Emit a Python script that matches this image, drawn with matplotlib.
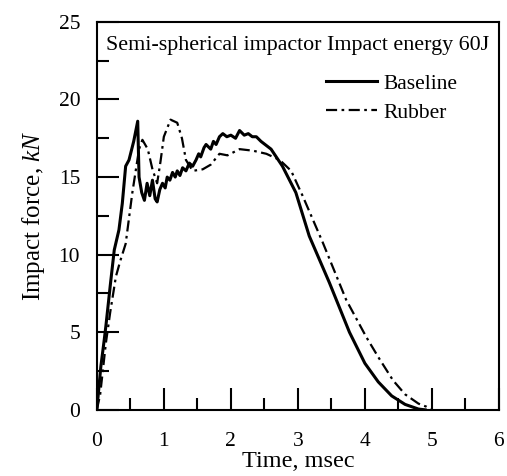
import matplotlib
matplotlib.use('Agg')
import matplotlib.pyplot as plt
from matplotlib.ticker import MultipleLocator

# Impact force histories (time in msec, force in kN)
baseline_t = [0, 0.06, 0.11, 0.135, 0.2, 0.26, 0.33, 0.38, 0.43, 0.48, 0.55, 0.61,
              0.63, 0.67, 0.71, 0.75, 0.79, 0.83, 0.87, 0.9, 0.94, 0.98, 1.02, 1.05,
              1.09, 1.13, 1.17, 1.2, 1.24, 1.28, 1.33, 1.38, 1.43, 1.48, 1.52, 1.55,
              1.6, 1.63, 1.7, 1.74, 1.78, 1.83, 1.88, 1.94, 2.0, 2.07, 2.13, 2.2,
              2.26, 2.32, 2.38, 2.45, 2.6, 2.77, 2.97, 3.17, 3.47, 3.77, 4.0, 4.2,
              4.4, 4.6, 4.8, 4.9]
baseline_f = [0, 2.8, 4.5, 5.4, 8.0, 10.3, 11.6, 13.3, 15.7, 16.1, 17.3, 18.6,
              15.0, 14.0, 13.5, 14.6, 13.8, 14.8, 13.6, 13.4, 14.2, 14.6, 14.3, 15.0,
              14.8, 15.3, 15.0, 15.4, 15.1, 15.6, 15.4, 15.9, 15.7, 16.1, 16.5, 16.3,
              16.9, 17.1, 16.8, 17.3, 17.1, 17.6, 17.8, 17.6, 17.7, 17.5, 18.0, 17.7,
              17.8, 17.6, 17.6, 17.3, 16.8, 15.7, 14.0, 11.2, 8.2, 5.0, 3.0, 1.8,
              0.9, 0.35, 0.05, 0]

rubber_t = [0, 0.05, 0.135, 0.2, 0.285, 0.35, 0.43, 0.53, 0.63, 0.68, 0.76, 0.83,
            0.9, 0.95, 1.0, 1.1, 1.2, 1.27, 1.33, 1.43, 1.58, 1.7, 1.83, 1.95, 2.13,
            2.33, 2.53, 2.73, 2.9, 3.07, 3.37, 3.72, 4.02, 4.2, 4.42, 4.6, 4.8, 4.92, 5.0]
rubber_f = [0, 1.0, 4.3, 6.3, 8.6, 9.6, 10.7, 14.0, 16.8, 17.4, 16.8, 15.5,
            14.6, 16.0, 17.6, 18.7, 18.5, 17.5, 16.1, 15.4, 15.5, 15.8, 16.5, 16.4, 16.8,
            16.7, 16.5, 16.1, 15.4, 13.8, 10.8, 7.1, 4.7, 3.4, 1.9, 1.0, 0.4, 0.2, 0]

plt.rcParams['font.family'] = ['Liberation Serif', 'DejaVu Serif']
plt.rcParams['mathtext.fontset'] = 'custom'
plt.rcParams['mathtext.it'] = 'Liberation Serif:italic'
plt.rcParams['mathtext.rm'] = 'Liberation Serif'

fig = plt.figure(figsize=(5.07, 4.76), dpi=100)
ax = fig.add_axes([0.191, 0.139, 0.793, 0.815])

ax.plot(baseline_t, baseline_f, color='black', lw=2.2, label='Baseline')
ax.plot(rubber_t, rubber_f, color='black', lw=1.6, linestyle=(0, (5, 2, 1.2, 2)),
        label='Rubber')

ax.set_xlim(0, 6)
ax.set_ylim(0, 25)
ax.xaxis.set_major_locator(MultipleLocator(1))
ax.xaxis.set_minor_locator(MultipleLocator(0.5))
ax.yaxis.set_major_locator(MultipleLocator(5))
ax.yaxis.set_minor_locator(MultipleLocator(2.5))
ax.tick_params(which='both', direction='in', top=False, right=False,
               width=1.5, labelsize=15.5)
ax.tick_params(axis='x', which='both', pad=16)
ax.tick_params(axis='y', which='both', pad=12)
ax.tick_params(which='major', length=16)
ax.tick_params(which='minor', length=8.5)
for s in ax.spines.values():
    s.set_linewidth(1.5)

ax.set_xlabel('Time, msec', fontsize=17.5, labelpad=0)
ax.set_ylabel('Impact force, $\\mathit{kN}$', fontsize=18, labelpad=8)

ax.text(0.5, 0.94, 'Semi-spherical impactor Impact energy 60J',
        transform=ax.transAxes, ha='center', va='center', fontsize=15.8)

ax.legend(loc='upper right', bbox_to_anchor=(0.935, 0.905), frameon=False,
          fontsize=15.5, handlelength=2.4, handletextpad=0.3, labelspacing=0.4,
          borderaxespad=0.3)

fig.savefig('out.png', dpi=100)
